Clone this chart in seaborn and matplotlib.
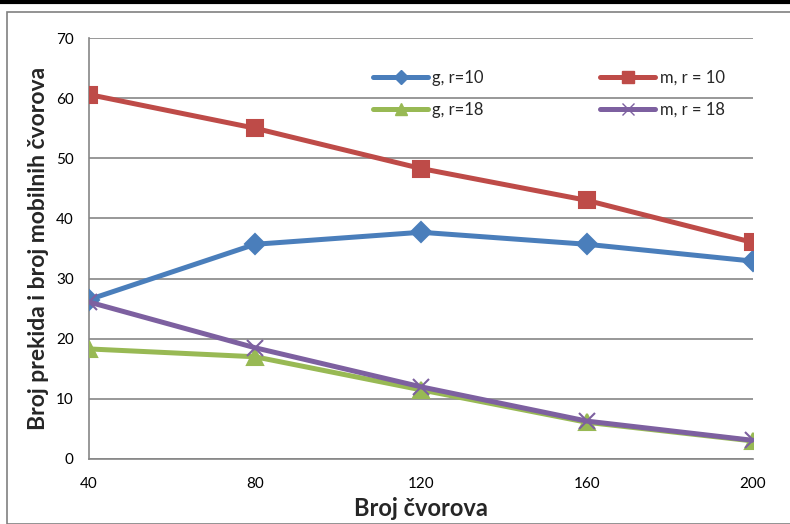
import matplotlib
matplotlib.use("Agg")
import matplotlib.pyplot as plt
import seaborn as sns
import pandas as pd
from matplotlib.lines import Line2D
from matplotlib.patches import Rectangle

nodes = [40, 80, 120, 160, 200]
g_r10 = [26.5, 35.7, 37.7, 35.7, 32.9]
m_r10 = [60.6, 55.0, 48.3, 43.0, 36.0]
g_r18 = [18.3, 17.0, 11.5, 6.1, 3.0]
m_r18 = [26.1, 18.5, 12.0, 6.3, 3.1]
series_names = ["g, r=10", "m, r = 10", "g, r=18", "m, r = 18"]
y_ticks = [0, 10, 20, 30, 40, 50, 60, 70]

sns.set_theme(style="white")
plt.rcParams['font.family'] = ['Lato', 'DejaVu Sans']

colors = {"g, r=10": "#4A7EBB", "m, r = 10": "#BE4B48",
          "g, r=18": "#98B954", "m, r = 18": "#7D60A0"}
markers = {"g, r=10": "D", "m, r = 10": "s", "g, r=18": "^", "m, r = 18": "x"}
msizes = {"g, r=10": 10, "m, r = 10": 12, "g, r=18": 12, "m, r = 18": 12}

rows = []
for name, vals in zip(series_names, [g_r10, m_r10, g_r18, m_r18]):
    for x, v in zip(nodes, vals):
        rows.append({"nodes": x, "value": v, "series": name})
df = pd.DataFrame(rows)

fig = plt.figure(figsize=(7.9, 5.24), dpi=100)
ax = fig.add_axes([89/790, 1-459/524, (753-89)/790, (459-38)/524])

for name in series_names:
    sub = df[df.series == name]
    sns.lineplot(data=sub, x="nodes", y="value", ax=ax, color=colors[name],
                 linewidth=3.6, marker=markers[name], markersize=msizes[name],
                 markeredgecolor=colors[name], markeredgewidth=1.5,
                 legend=False, zorder=3)

ax.set_xlim(40, 200)
ax.set_ylim(0, 70)
ax.set_xticks(nodes)
ax.set_xticklabels([str(n) for n in nodes])
ax.set_yticks(y_ticks)
ax.yaxis.grid(True, color="#868686", linewidth=1.2)
ax.xaxis.grid(False)
for s in ["top", "right"]:
    ax.spines[s].set_visible(False)
for s in ["left", "bottom"]:
    ax.spines[s].set_color("#868686")
    ax.spines[s].set_linewidth(1.2)
ax.tick_params(axis="both", which="both", length=5, width=1.2, color="#868686",
               labelsize=11, labelcolor="black", direction="out")
ax.tick_params(axis="x", pad=8)
ax.tick_params(axis="y", pad=6)
ax.set_xlabel("Broj čvorova", fontsize=17, fontweight="bold", labelpad=4)
ax.set_ylabel("Broj prekida i broj mobilnih čvorova", fontsize=16.5, fontweight="bold", labelpad=5)

# column-first order so rows read: g r=10 | m r=10 ; g r=18 | m r=18
order = ["g, r=10", "g, r=18", "m, r = 10", "m, r = 18"]
handles = [Line2D([0], [0], color=colors[n], linewidth=3.6, marker=markers[n],
                  markersize=msizes[n]*0.7, markeredgecolor=colors[n]) for n in order]
leg = ax.legend(handles, order, ncol=2, loc="upper left",
                bbox_to_anchor=((358-89)/664, (459-55)/421), frameon=False,
                fontsize=12, handlelength=3.3, handletextpad=0.25,
                columnspacing=7.0, labelspacing=0.95)

# outer frame decorations
fig.patches.append(Rectangle((7/790, 0), 1, 1-12/524, transform=fig.transFigure,
                             fill=False, edgecolor="#808080", linewidth=1.2))
fig.lines.append(Line2D([0, 1], [1-2/524, 1-2/524], transform=fig.transFigure,
                        color="black", linewidth=3))

fig.savefig("out.png", dpi=100)
